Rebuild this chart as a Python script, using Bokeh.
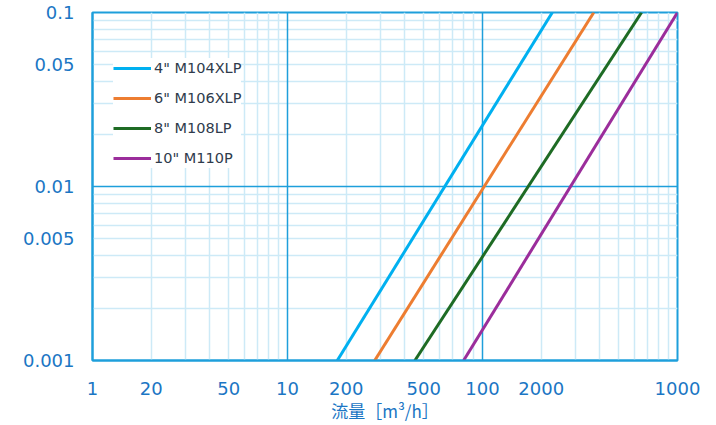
from bokeh.plotting import figure
from bokeh.models import Range1d, FixedTicker, Grid, Legend, LegendItem
from bokeh.embed import file_html
from bokeh.resources import INLINE

# ---- data ----
series_names = ['4" M104XLP', '6" M106XLP', '8" M108LP', '10" M110P']
series_colors = ["#00b0f0", "#ed7d31", "#1e6b24", "#9b2d9b"]
flow_low = [18.0, 28.0, 45.0, 80.0]       # flow [m3/h] at loss 0.001
flow_high = [228.0, 372.0, 654.0, 1000.0]  # flow [m3/h] at loss 0.1
loss_low = 0.001
loss_high = 0.1

x_tick_values = [1, 2, 5, 10, 20, 50, 100, 200, 1000]
x_tick_labels = ["1", "20", "50", "10", "200", "500", "100", "2000", "1000"]
y_tick_values = [0.001, 0.005, 0.01, 0.05, 0.1]
y_tick_labels = ["0.001", "0.005", "0.01", "0.05", "0.1"]
x_label = "流量［m³/h］"

# ---- styles ----
FRAME = "#1e9fdb"
MINOR = "#cdeaf7"
TICK_TXT = "#1b76c4"
FONT = "DejaVu Sans"

p = figure(width=716, height=425, x_axis_type="log", y_axis_type="log",
           x_range=Range1d(1, 1000), y_range=Range1d(0.001, 0.1),
           output_backend="svg", toolbar_location=None,
           min_border_left=92, min_border_right=39, min_border_top=12, min_border_bottom=63)
p.background_fill_color = "white"
p.border_fill_color = "white"
p.outline_line_color = FRAME
p.outline_line_width = 2
p.grid.grid_line_color = None

minor_x = [k * 10 ** d for d in range(0, 3) for k in range(2, 10)]
minor_y = [k * 10.0 ** d for d in range(-3, -1) for k in range(2, 10)]
p.add_layout(Grid(dimension=0, ticker=FixedTicker(ticks=minor_x), grid_line_color=MINOR, grid_line_width=1.5))
p.add_layout(Grid(dimension=1, ticker=FixedTicker(ticks=minor_y), grid_line_color=MINOR, grid_line_width=1.5))
p.add_layout(Grid(dimension=0, ticker=FixedTicker(ticks=[10, 100]), grid_line_color=FRAME, grid_line_width=1.5))
p.add_layout(Grid(dimension=1, ticker=FixedTicker(ticks=[0.01]), grid_line_color=FRAME, grid_line_width=1.5))

for ax in (p.xaxis[0], p.yaxis[0]):
    ax.axis_line_color = FRAME
    ax.axis_line_width = 2
    ax.major_tick_line_color = None
    ax.minor_tick_line_color = None
    ax.major_tick_out = 0
    ax.major_tick_in = 0
    ax.major_label_text_font = FONT
    ax.major_label_text_font_size = "18px"
    ax.major_label_text_color = TICK_TXT

p.xaxis.ticker = FixedTicker(ticks=x_tick_values)
p.xaxis.major_label_overrides = {v: t for v, t in zip(x_tick_values, x_tick_labels)}
p.yaxis.ticker = FixedTicker(ticks=y_tick_values)
p.yaxis.major_label_overrides = {v: t for v, t in zip(y_tick_values, y_tick_labels)}
p.xaxis.major_label_standoff = 21
p.yaxis.major_label_standoff = 18
p.xaxis.axis_label = x_label
p.xaxis.axis_label_text_font = "Noto Sans CJK JP"
p.xaxis.axis_label_text_font_style = "normal"
p.xaxis.axis_label_text_font_size = "17px"
p.xaxis.axis_label_text_color = TICK_TXT
p.xaxis.axis_label_standoff = 0

items = []
for name, color, x0, x1 in zip(series_names, series_colors, flow_low, flow_high):
    r = p.line([x0, x1], [loss_low, loss_high], line_color=color, line_width=3)
    items.append(LegendItem(label=name, renderers=[r]))

legend = Legend(items=items, location=(21, 192))
legend.background_fill_color = "white"
legend.background_fill_alpha = 1
legend.border_line_color = None
legend.label_text_font = FONT
legend.label_text_font_size = "14.5px"
legend.label_text_color = "#2f3b4c"
legend.glyph_width = 38
legend.glyph_height = 20
legend.label_height = 20
legend.label_standoff = 3
legend.spacing = 10
legend.padding = 8
legend.margin = 0
p.add_layout(legend, "center")

open("out.html", "w").write(file_html(p, INLINE))
